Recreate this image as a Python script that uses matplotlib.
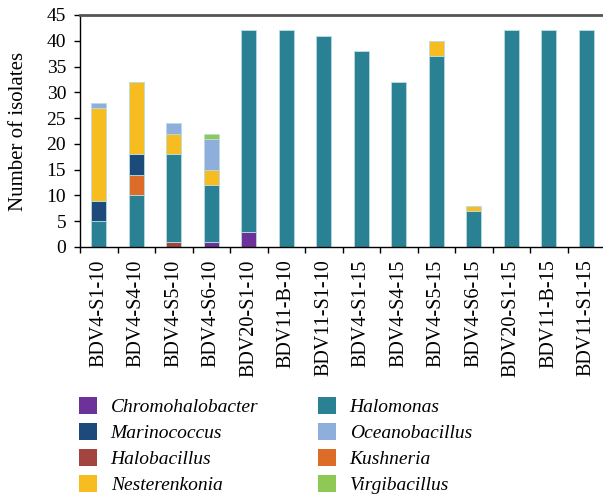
import matplotlib.pyplot as plt
import numpy as np
from matplotlib.patches import Patch

plt.rcParams['font.family'] = ['Liberation Serif', 'DejaVu Serif']

# samples on the x axis
samples = ["BDV4-S1-10", "BDV4-S4-10", "BDV4-S5-10", "BDV4-S6-10",
           "BDV20-S1-10", "BDV11-B-10", "BDV11-S1-10", "BDV4-S1-15",
           "BDV4-S4-15", "BDV4-S5-15", "BDV4-S6-15", "BDV20-S1-15",
           "BDV11-B-15", "BDV11-S1-15"]

# isolates per genus (stacked bottom to top in this order)
chromohalobacter = [0, 0, 0, 1, 3, 0, 0, 0, 0, 0, 0, 0, 0, 0]
halobacillus     = [0, 0, 1, 0, 0, 0, 0, 0, 0, 0, 0, 0, 0, 0]
halomonas        = [5, 10, 17, 11, 39, 42, 41, 38, 32, 37, 7, 42, 42, 42]
kushneria        = [0, 4, 0, 0, 0, 0, 0, 0, 0, 0, 0, 0, 0, 0]
marinococcus     = [4, 4, 0, 0, 0, 0, 0, 0, 0, 0, 0, 0, 0, 0]
nesterenkonia    = [18, 14, 4, 3, 0, 0, 0, 0, 0, 3, 1, 0, 0, 0]
oceanobacillus   = [1, 0, 2, 6, 0, 0, 0, 0, 0, 0, 0, 0, 0, 0]
virgibacillus    = [0, 0, 0, 1, 0, 0, 0, 0, 0, 0, 0, 0, 0, 0]

genera = ["Chromohalobacter", "Halobacillus", "Halomonas", "Kushneria",
          "Marinococcus", "Nesterenkonia", "Oceanobacillus", "Virgibacillus"]
values = [chromohalobacter, halobacillus, halomonas, kushneria,
          marinococcus, nesterenkonia, oceanobacillus, virgibacillus]
colors = {"Chromohalobacter": "#6d3299", "Halobacillus": "#a3443f",
          "Halomonas": "#2a8194", "Kushneria": "#dc6c27",
          "Marinococcus": "#1c4a7a", "Nesterenkonia": "#f6bc20",
          "Oceanobacillus": "#8eaedc", "Virgibacillus": "#8ec855"}

fig = plt.figure(figsize=(6.03, 5.03), dpi=100)
ax = fig.add_axes([80/603, 1-247/503, 525/603, 232/503])

x = np.arange(len(samples))
bottom = np.zeros(len(samples))
for g, v in zip(genera, values):
    v = np.array(v, dtype=float)
    ax.bar(x, v, 0.4, bottom=bottom, color=colors[g],
           edgecolor="#b9dbe2", linewidth=0.6)
    bottom += v

ax.set_xlim(-0.5, len(samples) - 0.5)
ax.set_ylim(0, 45)
ax.set_yticks(range(0, 46, 5))
ax.tick_params(axis='y', labelsize=14, length=4, width=1, direction='out', pad=6)
ax.set_xticks(x)
ax.set_xticklabels(samples, rotation=90, fontsize=14.5)
ax.tick_params(axis='x', length=0, pad=9)
ax.set_xticks(np.arange(len(samples) + 1) - 0.5, minor=True)
ax.tick_params(axis='x', which='minor', length=4, width=1, direction='out')
ax.set_ylabel("Number of isolates", fontsize=15, labelpad=13)

ax.spines['right'].set_visible(False)
ax.spines['top'].set_color('#555555')
ax.spines['top'].set_linewidth(2)
ax.spines['left'].set_linewidth(1)
ax.spines['bottom'].set_linewidth(1)

# legend in two columns
col1 = ["Chromohalobacter", "Marinococcus", "Halobacillus", "Nesterenkonia"]
col2 = ["Halomonas", "Oceanobacillus", "Kushneria", "Virgibacillus"]
for names, xpos in [(col1, 79), (col2, 318)]:
    handles = [Patch(facecolor=colors[n], edgecolor='none') for n in names]
    fig.legend(handles, names, loc='upper left',
               bbox_to_anchor=(xpos/603, 1-397/503), frameon=False,
               borderpad=0, borderaxespad=0, handlelength=0.93,
               handleheight=0.93, handletextpad=0.7, labelspacing=0.37,
               prop={'style': 'italic', 'size': 14})

fig.savefig("out.png", dpi=100)
